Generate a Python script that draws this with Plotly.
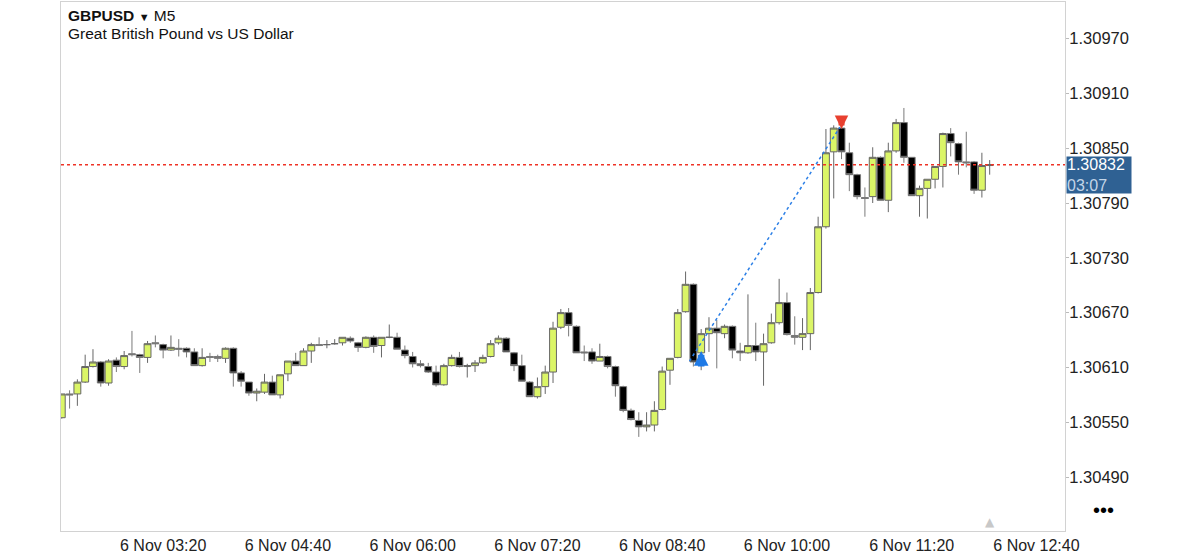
import pandas as pd
import plotly.graph_objects as go

symbol = "GBPUSD"
timeframe = "M5"
description = "Great British Pound vs US Dollar"
start_time = "2024-11-06 02:15"
bar_minutes = 5

opens = [1.30555, 1.30581, 1.30581, 1.30594, 1.30611, 1.30616, 1.30593, 1.30618, 1.30611, 1.30625,
         1.30624, 1.30621, 1.30637, 1.30635, 1.30629, 1.30631, 1.30631, 1.30627, 1.30612, 1.30622,
         1.30622, 1.30620, 1.30631, 1.30604, 1.30594, 1.30582, 1.30583, 1.30594, 1.30580, 1.30603,
         1.30617, 1.30612, 1.30628, 1.30635, 1.30635, 1.30636, 1.30637, 1.30642, 1.30637, 1.30632,
         1.30643, 1.30634, 1.30643, 1.30643, 1.30629, 1.30622, 1.30614, 1.30611, 1.30605, 1.30591,
         1.30612, 1.30621, 1.30611, 1.30612, 1.30615, 1.30622, 1.30637, 1.30642, 1.30626, 1.30612,
         1.30594, 1.30578, 1.30589, 1.30605, 1.30654, 1.30670, 1.30655, 1.30627, 1.30627, 1.30617,
         1.30622, 1.30611, 1.30589, 1.30563, 1.30552, 1.30545, 1.30547, 1.30564, 1.30607, 1.30621,
         1.30671, 1.30701, 1.30626, 1.30647, 1.30653, 1.30647, 1.30655, 1.30628, 1.30626, 1.30634,
         1.30627, 1.30637, 1.30659, 1.30681, 1.30645, 1.30643, 1.30647, 1.30692, 1.30764, 1.30846,
         1.30872, 1.30845, 1.30821, 1.30796, 1.30797, 1.30840, 1.30793, 1.30847, 1.30878, 1.30840,
         1.30798, 1.30806, 1.30816, 1.30830, 1.30866, 1.30855, 1.30835, 1.30835, 1.30804, 1.30831]

highs = [1.30581, 1.30585, 1.30597, 1.30624, 1.30630, 1.30617, 1.30619, 1.30621, 1.30628, 1.30650,
         1.30625, 1.30639, 1.30645, 1.30636, 1.30645, 1.30641, 1.30632, 1.30631, 1.30631, 1.30626,
         1.30624, 1.30632, 1.30632, 1.30606, 1.30594, 1.30587, 1.30603, 1.30601, 1.30602, 1.30617,
         1.30626, 1.30631, 1.30637, 1.30643, 1.30640, 1.30641, 1.30643, 1.30644, 1.30638, 1.30644,
         1.30645, 1.30643, 1.30657, 1.30648, 1.30634, 1.30627, 1.30618, 1.30615, 1.30612, 1.30614,
         1.30624, 1.30627, 1.30614, 1.30618, 1.30624, 1.30640, 1.30645, 1.30643, 1.30627, 1.30624,
         1.30595, 1.30599, 1.30612, 1.30660, 1.30674, 1.30675, 1.30656, 1.30634, 1.30631, 1.30636,
         1.30623, 1.30612, 1.30590, 1.30565, 1.30561, 1.30561, 1.30573, 1.30611, 1.30620, 1.30674,
         1.30715, 1.30702, 1.30652, 1.30665, 1.30662, 1.30657, 1.30656, 1.30637, 1.30690, 1.30659,
         1.30647, 1.30669, 1.30707, 1.30692, 1.30666, 1.30664, 1.30697, 1.30775, 1.30871, 1.30875,
         1.30873, 1.30856, 1.30822, 1.30807, 1.30851, 1.30841, 1.30856, 1.30882, 1.30894, 1.30840,
         1.30809, 1.30816, 1.30830, 1.30867, 1.30872, 1.30856, 1.30868, 1.30836, 1.30845, 1.30837]

lows = [1.30554, 1.30565, 1.30568, 1.30593, 1.30610, 1.30589, 1.30590, 1.30605, 1.30608, 1.30622,
        1.30604, 1.30615, 1.30632, 1.30620, 1.30628, 1.30622, 1.30621, 1.30612, 1.30611, 1.30616,
        1.30616, 1.30615, 1.30589, 1.30589, 1.30579, 1.30573, 1.30581, 1.30580, 1.30576, 1.30595,
        1.30612, 1.30612, 1.30615, 1.30634, 1.30631, 1.30635, 1.30634, 1.30637, 1.30627, 1.30631,
        1.30626, 1.30621, 1.30642, 1.30630, 1.30620, 1.30610, 1.30610, 1.30604, 1.30589, 1.30590,
        1.30611, 1.30610, 1.30599, 1.30605, 1.30614, 1.30621, 1.30635, 1.30627, 1.30606, 1.30595,
        1.30578, 1.30576, 1.30581, 1.30593, 1.30652, 1.30644, 1.30626, 1.30617, 1.30614, 1.30617,
        1.30609, 1.30578, 1.30561, 1.30552, 1.30534, 1.30540, 1.30540, 1.30563, 1.30591, 1.30620,
        1.30670, 1.30611, 1.30607, 1.30627, 1.30609, 1.30642, 1.30620, 1.30617, 1.30625, 1.30617,
        1.30590, 1.30636, 1.30657, 1.30645, 1.30635, 1.30629, 1.30629, 1.30691, 1.30762, 1.30795,
        1.30838, 1.30803, 1.30794, 1.30775, 1.30790, 1.30793, 1.30780, 1.30845, 1.30834, 1.30798,
        1.30775, 1.30773, 1.30806, 1.30807, 1.30841, 1.30821, 1.30829, 1.30800, 1.30796, 1.30821]

closes = [1.30581, 1.30580, 1.30594, 1.30611, 1.30616, 1.30593, 1.30617, 1.30611, 1.30623, 1.30624,
          1.30621, 1.30636, 1.30636, 1.30629, 1.30632, 1.30630, 1.30627, 1.30612, 1.30621, 1.30621,
          1.30620, 1.30631, 1.30604, 1.30595, 1.30582, 1.30584, 1.30594, 1.30580, 1.30602, 1.30617,
          1.30612, 1.30628, 1.30635, 1.30634, 1.30635, 1.30636, 1.30643, 1.30639, 1.30632, 1.30643,
          1.30633, 1.30643, 1.30643, 1.30630, 1.30623, 1.30614, 1.30612, 1.30605, 1.30591, 1.30612,
          1.30621, 1.30611, 1.30612, 1.30615, 1.30621, 1.30636, 1.30642, 1.30627, 1.30612, 1.30595,
          1.30578, 1.30589, 1.30605, 1.30653, 1.30670, 1.30656, 1.30626, 1.30626, 1.30617, 1.30622,
          1.30611, 1.30590, 1.30563, 1.30553, 1.30545, 1.30547, 1.30563, 1.30606, 1.30620, 1.30670,
          1.30701, 1.30616, 1.30647, 1.30653, 1.30648, 1.30655, 1.30629, 1.30626, 1.30634, 1.30627,
          1.30636, 1.30659, 1.30681, 1.30646, 1.30643, 1.30647, 1.30692, 1.30764, 1.30845, 1.30872,
          1.30846, 1.30821, 1.30797, 1.30795, 1.30840, 1.30793, 1.30847, 1.30878, 1.30840, 1.30798,
          1.30806, 1.30816, 1.30830, 1.30866, 1.30856, 1.30835, 1.30834, 1.30804, 1.30831, 1.30832]

# current bid and countdown
current_price = 1.30832
countdown = "03:07"

# trade (buy) drawn on chart
trade_open_time = "2024-11-06 08:57:30"
trade_open_price = 1.30617
trade_close_time = "2024-11-06 10:34"
trade_close_price = 1.30873
buy_arrow_time = "2024-11-06 09:05"
buy_arrow_price = 1.30628
sell_arrow_time = "2024-11-06 10:35"
sell_arrow_price = 1.30871
shift_marker_time = "2024-11-06 12:10"

x_tick_times = ["2024-11-06 03:20", "2024-11-06 04:40", "2024-11-06 06:00", "2024-11-06 07:20",
                "2024-11-06 08:40", "2024-11-06 10:00", "2024-11-06 11:20", "2024-11-06 12:40"]
x_tick_labels = ["6 Nov 03:20", "6 Nov 04:40", "6 Nov 06:00", "6 Nov 07:20",
                 "6 Nov 08:40", "6 Nov 10:00", "6 Nov 11:20", "6 Nov 12:40"]
y_tick_values = [1.30490, 1.30550, 1.30610, 1.30670, 1.30730, 1.30790, 1.30850, 1.30910, 1.30970]
x_range = ["2024-11-06 02:14:30", "2024-11-06 12:58:18"]
y_range = [1.30431, 1.31010]

times = pd.date_range(start_time, periods=len(opens), freq=f"{bar_minutes}min")

FONT = "Liberation Sans, Arial, Helvetica, sans-serif"
BULL = "#dbf567"
BEAR = "#000000"

fig = go.Figure()
fig.add_trace(go.Candlestick(
    x=times, open=opens, high=highs, low=lows, close=closes,
    increasing=dict(fillcolor=BULL, line=dict(color="#666666", width=1)),
    decreasing=dict(fillcolor=BEAR, line=dict(color="#7a7a7a", width=1)),
    whiskerwidth=0, showlegend=False, hoverinfo="skip",
))

# trade line
fig.add_trace(go.Scatter(
    x=[trade_open_time, trade_close_time], y=[trade_open_price, trade_close_price],
    mode="lines", line=dict(color="#2b7fe6", width=1.5, dash="dot"),
    showlegend=False, hoverinfo="skip",
))

fig.add_shape(type="line", xref="paper", x0=0, x1=1, yref="y",
              y0=current_price, y1=current_price,
              line=dict(color="#ee3326", width=1.5, dash="dot"))

annotations = [
    dict(xref="paper", yref="paper", x=0.005, y=0.974, xanchor="left", yanchor="middle",
         text=f"<b>{symbol}</b> <span style='font-size:11px'>▼</span> {timeframe}",
         showarrow=False, font=dict(family=FONT, size=15.5, color="#111111")),
    dict(xref="paper", yref="paper", x=0.005, y=0.940, xanchor="left", yanchor="middle",
         text=description, showarrow=False, font=dict(family=FONT, size=15.5, color="#111111")),
    dict(xref="paper", yref="y", x=1.001, y=current_price, xanchor="left", yanchor="top",
         yshift=9, text=f"{current_price:.5f}<br><span style='color:#c3d5e8'>{countdown}</span>",
         align="left", valign="middle", showarrow=False, bgcolor="#2f6193", borderpad=0,
         width=64, height=36, font=dict(family=FONT, size=16, color="#ffffff")),
    dict(x=buy_arrow_time, y=buy_arrow_price, xref="x", yref="y", text="", showarrow=True,
         ax=0, ay=17, arrowhead=2, arrowsize=0.45, arrowwidth=6.5, arrowcolor="#1f7ae6"),
    dict(x=sell_arrow_time, y=sell_arrow_price, xref="x", yref="y", text="", showarrow=True,
         ax=0, ay=-14, arrowhead=2, arrowsize=0.45, arrowwidth=6, arrowcolor="#e8402f"),
    dict(x=shift_marker_time, xref="x", yref="paper", y=0, yanchor="bottom", text="▲",
         showarrow=False, font=dict(family="DejaVu Sans", size=12, color="#c8c8c8")),
    dict(xref="paper", yref="paper", x=1.038, y=0.040, xanchor="center", yanchor="middle",
         text="•••", showarrow=False, font=dict(family=FONT, size=20, color="#000000")),
]

fig.update_layout(
    width=1200, height=555,
    margin=dict(l=61, r=135, t=1, b=22),
    paper_bgcolor="white", plot_bgcolor="white",
    boxgap=0.12, boxgroupgap=0,
    annotations=annotations,
    xaxis=dict(type="date", range=x_range, rangeslider=dict(visible=False),
               tickvals=x_tick_times, ticktext=x_tick_labels, showgrid=False, zeroline=False,
               showline=True, mirror=True, linecolor="#d2d2d2", linewidth=1, ticks="",
               tickfont=dict(family=FONT, size=16, color="#222222")),
    yaxis=dict(side="right", range=y_range, tickvals=y_tick_values,
               ticktext=[f"{v:.5f}" for v in y_tick_values], showgrid=False, zeroline=False,
               showline=True, mirror=True, linecolor="#d2d2d2", linewidth=1,
               ticks="outside", ticklen=3, tickcolor="#bbbbbb", ticklabelstandoff=-3,
               tickfont=dict(family=FONT, size=16.5, color="#222222")),
    hovermode=False,
)

fig.write_html("out.html")
